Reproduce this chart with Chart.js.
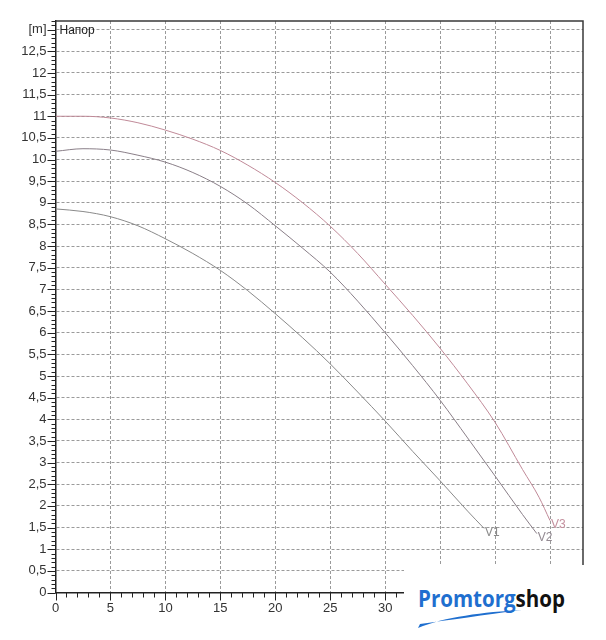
<!DOCTYPE html>
<html>
<head>
<meta charset="utf-8">
<script src="https://cdn.jsdelivr.net/npm/chart.js@4"></script>
<style>
  html, body { margin: 0; padding: 0; background: #fff; }
  #wrap { position: relative; width: 606px; height: 640px; }
  #logo { position: absolute; left: 404px; top: 565px; width: 202px; height: 75px; }
</style>
</head>
<body>
<div id="wrap">
  <canvas id="c" width="606" height="640"></canvas>
  <svg id="logo" width="202" height="75" viewBox="0 0 202 75">
    <rect x="0" y="0" width="202" height="75" fill="#ffffff"/>
    <text x="14" y="42" font-family="Open Sans, Roboto, sans-serif" font-weight="700" font-size="23" textLength="147" lengthAdjust="spacingAndGlyphs"><tspan fill="#1f6fcf">Promtorg</tspan><tspan fill="#111111">shop</tspan></text>
    <path d="M14,63 C40,52 80,47 118,45 C80,50 45,55 16,59 Z" fill="#1f6fcf"/>
  </svg>
</div>
<script>
// ---- data ----
const xTicks = [0, 5, 10, 15, 20, 25, 30, 35, 40, 45];
const xTickLabels = ['0', '5', '10', '15', '20', '25', '30', '35', '40', '45'];
const yTicks = [0, 0.5, 1, 1.5, 2, 2.5, 3, 3.5, 4, 4.5, 5, 5.5, 6, 6.5, 7, 7.5, 8, 8.5, 9, 9.5, 10, 10.5, 11, 11.5, 12, 12.5, 13];
const yTickLabels = ['0', '0,5', '1', '1,5', '2', '2,5', '3', '3,5', '4', '4,5', '5', '5,5', '6', '6,5', '7', '7,5', '8', '8,5', '9', '9,5', '10', '10,5', '11', '11,5', '12', '12,5', '[m]'];
const seriesNames = ['V1', 'V2', 'V3'];
const v1X = [0, 2.5, 5, 7.5, 10, 12.5, 15, 17.5, 20, 22.5, 25, 27.5, 30, 32.5, 35, 37.5, 39];
const v1Y = [8.86, 8.8, 8.68, 8.47, 8.17, 7.83, 7.44, 6.97, 6.44, 5.88, 5.28, 4.63, 3.96, 3.26, 2.58, 1.88, 1.48];
const v2X = [0, 2.5, 5, 7.5, 10, 12.5, 15, 17.5, 20, 22.5, 25, 27.5, 30, 32.5, 35, 37.5, 40, 42.5, 43.8];
const v2Y = [10.19, 10.25, 10.22, 10.1, 9.94, 9.7, 9.38, 8.97, 8.47, 7.95, 7.4, 6.73, 6.0, 5.24, 4.44, 3.57, 2.69, 1.8, 1.36];
const v3X = [0, 2.5, 5, 7.5, 10, 12.5, 15, 17.5, 20, 22.5, 25, 27.5, 30, 32.5, 35, 37.5, 40, 42.5, 44, 45];
const v3Y = [11.0, 11.0, 10.96, 10.85, 10.68, 10.47, 10.21, 9.87, 9.47, 9.0, 8.46, 7.83, 7.12, 6.4, 5.64, 4.82, 3.93, 2.84, 2.2, 1.66];
const axisTitle = 'Напор';

const toPts = (xs, ys) => xs.map((x, i) => ({ x: x, y: ys[i] }));
const lineColors = ['#8a8a8a', '#8a7f88', '#c08a98'];
const labelColors = ['#8a8a8a', '#938a92', '#c4909e'];

const font = { family: 'Liberation Sans, Arial, sans-serif', size: 13 };

const extras = {
  id: 'extras',
  afterDraw(chart) {
    const ctx = chart.ctx;
    const xs = chart.scales.x, ys = chart.scales.y;
    const a = chart.chartArea;
    ctx.save();
    // top & right frame
    ctx.strokeStyle = '#3a3a3a';
    ctx.lineWidth = 1.5;
    ctx.beginPath();
    ctx.moveTo(a.left, a.top);
    ctx.lineTo(a.right, a.top);
    ctx.lineTo(a.right, a.bottom);
    ctx.stroke();
    // ticks
    ctx.strokeStyle = '#222';
    ctx.lineWidth = 1;
    ctx.beginPath();
    for (let i = 0; i <= 132; i++) {
      const py = Math.round(ys.getPixelForValue(i / 10)) + 0.5;
      const len = (i % 5 === 0) ? 8 : 4;
      ctx.moveTo(a.left - len, py);
      ctx.lineTo(a.left, py);
    }
    for (let i = 0; i <= 48; i++) {
      const px = Math.round(xs.getPixelForValue(i)) + 0.5;
      const len = (i % 5 === 0) ? 8 : 5;
      ctx.moveTo(px, a.bottom);
      ctx.lineTo(px, a.bottom + len);
    }
    ctx.stroke();
    // series end labels
    ctx.font = '12px Liberation Sans, Arial, sans-serif';
    ctx.textAlign = 'left';
    ctx.textBaseline = 'middle';
    chart.data.datasets.forEach((ds, di) => {
      const last = ds.data[ds.data.length - 1];
      const px = xs.getPixelForValue(last.x);
      const py = ys.getPixelForValue(last.y);
      ctx.fillStyle = labelColors[di];
      ctx.fillText(seriesNames[di], px + 1, py + 4);
    });
    // axis title
    ctx.font = '12px Liberation Sans, Arial, sans-serif';
    ctx.fillStyle = '#222';
    ctx.fillText(axisTitle, a.left + 4, ys.getPixelForValue(13) + 1);
    ctx.restore();
  }
};

new Chart(document.getElementById('c'), {
  type: 'scatter',
  data: {
    datasets: [
      { label: seriesNames[0], data: toPts(v1X, v1Y) },
      { label: seriesNames[1], data: toPts(v2X, v2Y) },
      { label: seriesNames[2], data: toPts(v3X, v3Y) }
    ].map((d, i) => Object.assign(d, {
      showLine: true,
      borderColor: lineColors[i],
      borderWidth: 1,
      pointRadius: 0,
      cubicInterpolationMode: 'monotone',
      fill: false
    }))
  },
  options: {
    responsive: false,
    animation: false,
    events: [],
    layout: { padding: { top: 21, right: 23, left: 0, bottom: 0 } },
    plugins: { legend: { display: false }, tooltip: { enabled: false } },
    scales: {
      x: {
        type: 'linear',
        min: 0, max: 48,
        afterBuildTicks: s => { s.ticks = xTicks.map(v => ({ value: v })); },
        afterFit: s => { s.height = 47.5; },
        ticks: {
          callback: (v, i) => xTickLabels[i],
          font: font, color: '#333', padding: 8,
          maxRotation: 0, autoSkip: false
        },
        grid: { color: '#9a9a9a', lineWidth: 1, drawTicks: false },
        border: { display: true, color: '#222', width: 1.5, dash: [3, 2] }
      },
      y: {
        type: 'linear',
        min: 0, max: 13.2,
        afterBuildTicks: s => { s.ticks = yTicks.map(v => ({ value: v })); },
        afterFit: s => { s.width = 55.5; },
        ticks: {
          callback: (v, i) => yTickLabels[i],
          font: font, color: '#333', padding: 9, autoSkip: false
        },
        grid: { color: '#9a9a9a', lineWidth: 1, drawTicks: false },
        border: { display: true, color: '#222', width: 1.5, dash: [3, 2] }
      }
    }
  },
  plugins: [extras]
});
</script>
</body>
</html>
